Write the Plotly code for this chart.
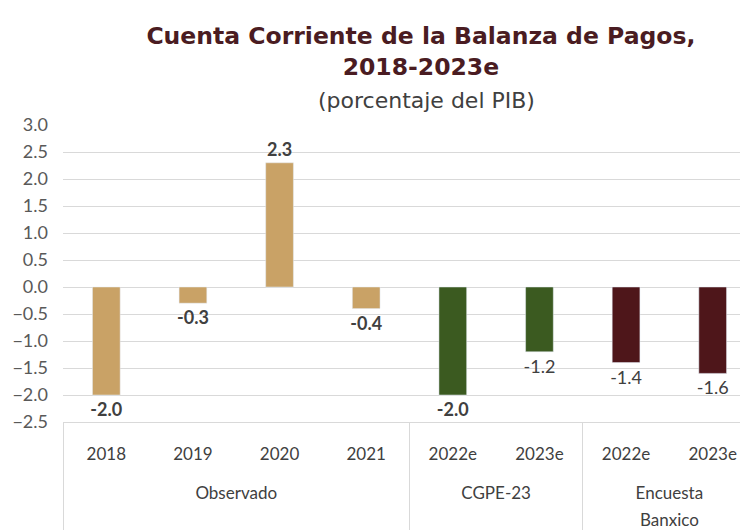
import plotly.graph_objects as go

groups = ["Observado"] * 4 + ["CGPE-23"] * 2 + ["Encuesta<br>Banxico"] * 2
years = ["2018", "2019", "2020", "2021", "2022e", "2023e", "2022e", "2023e"]
values = [-2.0, -0.3, 2.3, -0.4, -2.0, -1.2, -1.4, -1.6]

group_colors = {
    "Observado": "#C9A266",
    "CGPE-23": "#3B5A20",
    "Encuesta<br>Banxico": "#4E161A",
}
colors = [group_colors[g] for g in groups]
# the last three labels are not bold in the original
labels = [f"<b>{v:.1f}</b>" if i < 5 else f"{v:.1f}" for i, v in enumerate(values)]


def small(s, size=17):
    # axis font is larger than the visible text so the two label rows sit further apart
    return "<br>".join(f"<span style='font-size:{size}px'>{p}</span>" for p in s.split("<br>"))


year_text = [small(y) for y in years]
group_text = ["<br>" + small(g) for g in groups]

fig = go.Figure(
    go.Bar(
        x=[group_text, year_text],
        y=values,
        marker_color=colors,
        width=0.32,
        text=labels,
        textposition="outside",
        constraintext="none",
        textfont=dict(family="Lato", size=18, color="#404040"),
        cliponaxis=False,
        showlegend=False,
    )
)

# the page body adds an 8px offset, so margins are 8px smaller than the target
fig.update_layout(
    width=748,
    height=531,
    margin=dict(l=55, r=0, t=117, b=117),
    plot_bgcolor="white",
    paper_bgcolor="white",
    title=dict(
        text="Cuenta Corriente de la Balanza de Pagos,<br>2018-2023e",
        x=0.552,
        xanchor="center",
        y=0.932,
        yanchor="middle",
        font=dict(family="DejaVu Sans", size=23.5, color="#4A1C22", weight="bold"),
    ),
    annotations=[
        dict(
            text="(porcentaje del PIB)",
            xref="paper",
            yref="paper",
            x=0.525,
            y=1.081,
            xanchor="center",
            yanchor="middle",
            showarrow=False,
            font=dict(family="DejaVu Sans", size=22, color="#404040"),
        )
    ],
)

fig.update_yaxes(
    range=[-2.5, 3.0],
    dtick=0.5,
    tickformat=".1f",
    showgrid=True,
    gridcolor="#D9D9D9",
    gridwidth=1,
    zeroline=False,
    automargin=False,
    ticklabelstandoff=14,
    tickfont=dict(family="Lato", size=18, color="#595959"),
)
fig.update_xaxes(
    type="multicategory",
    showline=True,
    linecolor="#D9D9D9",
    showdividers=True,
    dividercolor="#D9D9D9",
    dividerwidth=1,
    automargin=False,
    ticklabelstandoff=12,
    tickfont=dict(family="Lato", size=21, color="#404040"),
)

fig.write_html("out.html")
